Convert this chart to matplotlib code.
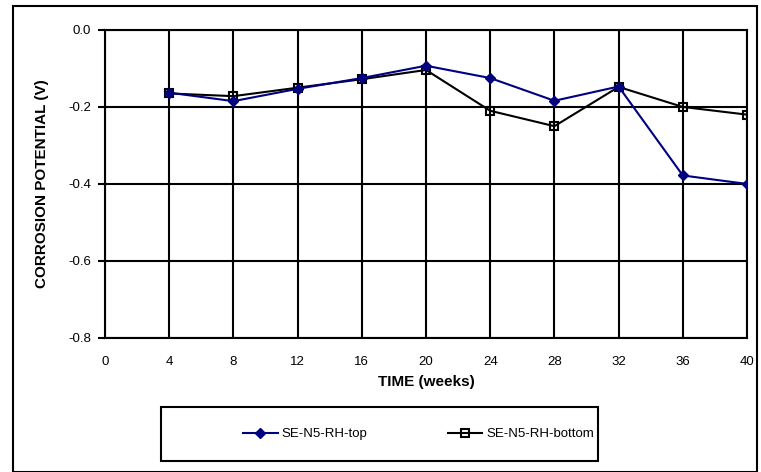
import matplotlib
matplotlib.use("Agg")
import matplotlib.pyplot as plt
from matplotlib.patches import Rectangle

# ========== DATA ==========
weeks = [4, 8, 12, 16, 20, 24, 28, 32, 36, 40]
top = [-0.163, -0.185, -0.153, -0.125, -0.093, -0.125, -0.184, -0.147, -0.378, -0.400]
bottom = [-0.165, -0.172, -0.150, -0.128, -0.104, -0.210, -0.250, -0.148, -0.200, -0.220]
x_ticks = list(range(0, 41, 4))
y_ticks = [0.0, -0.2, -0.4, -0.6, -0.8]

plt.rcParams["font.family"] = ["Liberation Sans", "DejaVu Sans"]

fig = plt.figure(figsize=(7.61, 4.72), dpi=100)
ax = fig.add_axes([0.138, 0.284, 0.8436, 0.6526])

# outer chart border
fig.patches.append(Rectangle((13 / 761, 0.0), 744 / 761, 1 - 6 / 472,
                             transform=fig.transFigure, fill=False,
                             edgecolor="black", linewidth=1.5))

l1, = ax.plot(weeks, top, color="#000080", marker="D", markersize=5,
              linewidth=1.5, label="SE-N5-RH-top", zorder=4)
l2, = ax.plot(weeks, bottom, color="black", marker="s", markersize=6,
              markerfacecolor="none", markeredgewidth=1.5,
              linewidth=1.5, label="SE-N5-RH-bottom", zorder=3)

ax.set_xlim(0, 40)
ax.set_ylim(-0.8, 0.0)
ax.set_xticks(x_ticks)
ax.set_yticks(y_ticks)
ax.set_yticklabels([f"{v:.1f}" for v in y_ticks])
ax.grid(True, color="black", linewidth=1.5)
ax.set_axisbelow(True)
for s in ax.spines.values():
    s.set_linewidth(1.5)
ax.tick_params(axis="x", length=0, pad=13, labelsize=9.5)
ax.tick_params(axis="y", length=5, width=1.5, direction="out", labelsize=9.5, pad=5)

ax.set_xlabel("TIME (weeks)", fontsize=11, fontweight="bold", labelpad=5)
ax.set_ylabel("CORROSION POTENTIAL (V)", fontsize=11, fontweight="bold", labelpad=14)

# legend box
lx0, lx1 = 161 / 761, 598 / 761
ly0, ly1 = 1 - 461 / 472, 1 - 407 / 472
fig.patches.append(Rectangle((lx0, ly0), lx1 - lx0, ly1 - ly0,
                             transform=fig.transFigure, fill=False,
                             edgecolor="black", linewidth=1.5))
fig.legend(handles=[l1, l2], loc="center left",
           bbox_to_anchor=(238 / 761, 1 - 434 / 472),
           ncol=2, frameon=False, fontsize=9.5, handlelength=2.6,
           columnspacing=6.1, handletextpad=0.3, borderaxespad=0)

fig.savefig("out.png", dpi=100)
